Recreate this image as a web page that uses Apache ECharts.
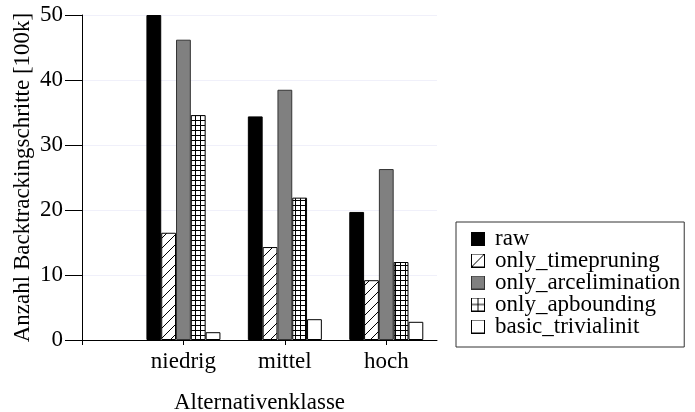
<!DOCTYPE html>
<html><head><meta charset="utf-8">
<script src="https://cdn.jsdelivr.net/npm/echarts@6/dist/echarts.min.js"></script>
<style>html,body{margin:0;padding:0;background:#fff}#c{width:695px;height:412px}</style>
</head><body><div id="c"></div>
<script>
const categories = ['niedrig', 'mittel', 'hoch'];
const categoryPos = [1, 2, 3];
const seriesNames = ['raw', 'only_timepruning', 'only_arcelimination', 'only_apbounding', 'basic_trivialinit'];
const raw = [50, 34.4, 19.7];
const onlyTimepruning = [16.5, 14.3, 9.2];
const onlyArcelimination = [46.2, 38.5, 26.3];
const onlyApbounding = [34.6, 21.9, 12.0];
const basicTrivialinit = [1.2, 3.2, 2.8];
const yTicks = [0, 10, 20, 30, 40, 50];
const xTitle = 'Alternativenklasse';
const yTitle = 'Anzahl Backtrackingschritte [100k]';

const FONT = 'Liberation Serif';
const FS = 23;

function makeCanvas(w, h, draw) {
  const c = document.createElement('canvas');
  c.width = w; c.height = h;
  const ctx = c.getContext('2d');
  draw(ctx);
  return c;
}
const hatch = makeCanvas(10, 10, ctx => {
  ctx.fillStyle = '#fff'; ctx.fillRect(0, 0, 10, 10);
  ctx.strokeStyle = '#000'; ctx.lineWidth = 1;
  ctx.beginPath();
  ctx.moveTo(-1, 11); ctx.lineTo(11, -1);
  ctx.moveTo(-6, 6); ctx.lineTo(6, -6);
  ctx.moveTo(4, 16); ctx.lineTo(16, 4);
  ctx.stroke();
});
const grid = makeCanvas(5, 5, ctx => {
  ctx.fillStyle = '#fff'; ctx.fillRect(0, 0, 5, 5);
  ctx.fillStyle = '#000';
  ctx.fillRect(0, 0, 1, 5);
  ctx.fillRect(0, 0, 5, 1);
});

function legendIcon(kind) {
  return 'image://' + makeCanvas(14, 14, ctx => {
    ctx.fillStyle = kind === 'raw' ? '#000' : (kind === 'gray' ? '#808080' : '#fff');
    ctx.fillRect(0, 0, 14, 14);
    ctx.strokeStyle = kind === 'gray' ? '#333' : '#000';
    ctx.lineWidth = 1;
    ctx.strokeRect(0.5, 0.5, 13, 13);
    ctx.beginPath();
    if (kind === 'hatch') { ctx.moveTo(0.5, 13.5); ctx.lineTo(13.5, 0.5); }
    if (kind === 'grid') { ctx.moveTo(7, 0); ctx.lineTo(7, 14); ctx.moveTo(0, 7); ctx.lineTo(14, 7); }
    ctx.stroke();
  }).toDataURL();
}

const values = [raw, onlyTimepruning, onlyArcelimination, onlyApbounding, basicTrivialinit];
const fills = ['#000', { image: hatch, repeat: 'repeat' }, '#808080', { image: grid, repeat: 'repeat' }, '#fff'];
const borders = ['#000', '#000', '#333', '#000', '#000'];
const iconKinds = ['raw', 'hatch', 'gray', 'grid', 'empty'];

const chart = echarts.init(document.getElementById('c'), null, { renderer: 'canvas' });
chart.setOption({
  animation: false,
  backgroundColor: '#fff',
  textStyle: { fontFamily: FONT, color: '#000' },
  grid: { left: 82, top: 15, right: 258, bottom: 72, containLabel: false, outerBoundsMode: 'none' },
  legend: {
    orient: 'vertical',
    left: 456, top: 222,
    padding: [5, 4, 9, 15],
    itemWidth: 14, itemHeight: 14, itemGap: -1,
    borderColor: '#333', borderWidth: 1,
    textStyle: { fontFamily: FONT, fontSize: FS, lineHeight: 22, color: '#000', padding: [0, 0, 0, 5] },
    data: seriesNames.map((n, i) => ({ name: n, icon: legendIcon(iconKinds[i]) }))
  },
  xAxis: {
    type: 'value', min: 0, max: 3.5, interval: 1,
    name: xTitle, nameLocation: 'middle', nameGap: 51, nameMoveOverlap: false,
    nameTextStyle: { fontFamily: FONT, fontSize: FS, color: '#000' },
    axisLine: { lineStyle: { color: '#000', width: 1 } },
    axisTick: { show: true, length: 5, lineStyle: { color: '#000' }, customValues: [0].concat(categoryPos) },
    axisLabel: {
      fontFamily: FONT, fontSize: FS, color: '#000', margin: 10,
      customValues: categoryPos,
      formatter: v => categories[categoryPos.indexOf(v)] || ''
    },
    splitLine: { show: false }
  },
  yAxis: {
    type: 'value', min: yTicks[0], max: yTicks[yTicks.length - 1], interval: 10,
    name: yTitle, nameLocation: 'middle', nameGap: 48, nameRotate: 90, nameMoveOverlap: false,
    nameTextStyle: { fontFamily: FONT, fontSize: FS, color: '#000' },
    axisLine: { show: true, lineStyle: { color: '#000', width: 1 } },
    axisTick: { show: true, length: 17, lineStyle: { color: '#000' } },
    axisLabel: { fontFamily: FONT, fontSize: FS, color: '#000', margin: 19 },
    splitLine: { show: true, lineStyle: { color: '#f0f0fa', width: 1 } }
  },
  series: seriesNames.map((n, i) => ({
    name: n, type: 'bar',
    barWidth: 14.8, barGap: '0%',
    data: categoryPos.map((p, j) => [p, values[i][j]]),
    itemStyle: { color: fills[i], borderColor: borders[i], borderWidth: 1 }
  }))
});
</script></body></html>
